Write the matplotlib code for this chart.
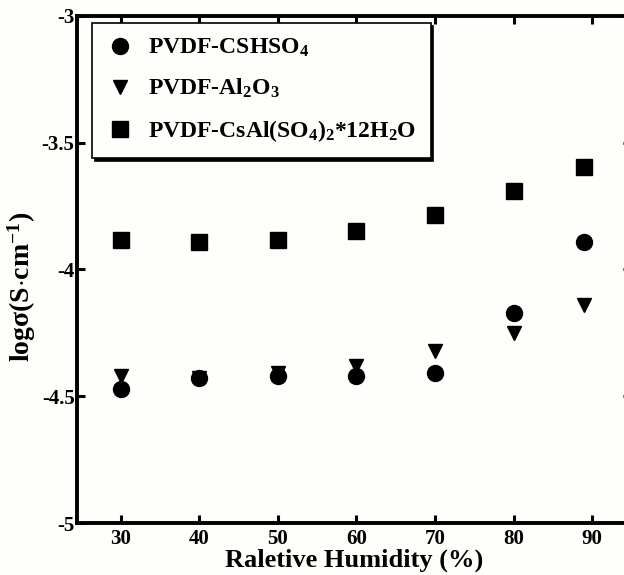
import matplotlib
matplotlib.use('Agg')
import matplotlib.pyplot as plt

plt.rcParams['font.family'] = 'Liberation Serif'
plt.rcParams['font.weight'] = 'bold'
plt.rcParams['mathtext.fontset'] = 'custom'
plt.rcParams['mathtext.rm'] = 'Liberation Serif:bold'
plt.rcParams['mathtext.bf'] = 'Liberation Serif:bold'
plt.rcParams['mathtext.it'] = 'Liberation Serif:bold'

# relative humidity (%) and log conductivity for each sample
rh = [30, 40, 50, 60, 70, 80, 89]
cshso4 = [-4.47, -4.43, -4.42, -4.42, -4.41, -4.17, -3.89]
al2o3 = [-4.42, -4.43, -4.41, -4.38, -4.32, -4.25, -4.14]
csal = [-3.885, -3.89, -3.885, -3.847, -3.785, -3.69, -3.596]

names = [r'PVDF-CSHSO$_4$', r'PVDF-Al$_2$O$_3$', r'PVDF-CsAl(SO$_4$)$_2$*12H$_2$O']
xticks = [30, 40, 50, 60, 70, 80, 90]
yticks = [-5, -4.5, -4, -3.5, -3]
yticklabels = ['-5', '-4.5', '-4', '-3.5', '-3']

bg = '#fefefb'
fig = plt.figure(figsize=(6.24, 5.75), dpi=100, facecolor=bg)
ax = fig.add_axes([0.124, 0.0904, 0.888, 0.882], facecolor=bg)

ax.plot(rh, cshso4, 'o', color='k', markersize=11.5, label=names[0])
ax.plot(rh, al2o3, 'v', color='k', markersize=10, label=names[1])
ax.plot(rh, csal, 's', color='k', markersize=11, label=names[2])

ax.set_xlim(24.5, 95)
ax.set_ylim(-5, -3)
ax.set_xticks(xticks)
ax.set_yticks(yticks)
ax.set_yticklabels(yticklabels)

for s in ax.spines.values():
    s.set_linewidth(2.8)
ax.tick_params(direction='in', length=6, width=2.2, top=True, right=True,
               labelsize=15, pad=4)
ax.tick_params(axis='y', pad=2)

ax.set_xlabel('Raletive Humidity (%)', fontsize=19, fontweight='bold', labelpad=0)
ax.set_ylabel(r'log$\sigma$(S$\cdot$cm$^{-1}$)', fontsize=20, fontweight='bold')
ax.yaxis.set_label_coords(-0.071, 0.465)

leg = ax.legend(loc='upper left', bbox_to_anchor=(0.026, 0.986), borderaxespad=0,
                fancybox=False, edgecolor='k', framealpha=1, facecolor=bg,
                shadow={'color': 'k', 'alpha': 1}, fontsize=17, handletextpad=0.6,
                labelspacing=0.75, borderpad=0.6, handlelength=1.2)
leg.get_frame().set_linewidth(1.2)

fig.savefig('out.png', dpi=100, facecolor=bg)
